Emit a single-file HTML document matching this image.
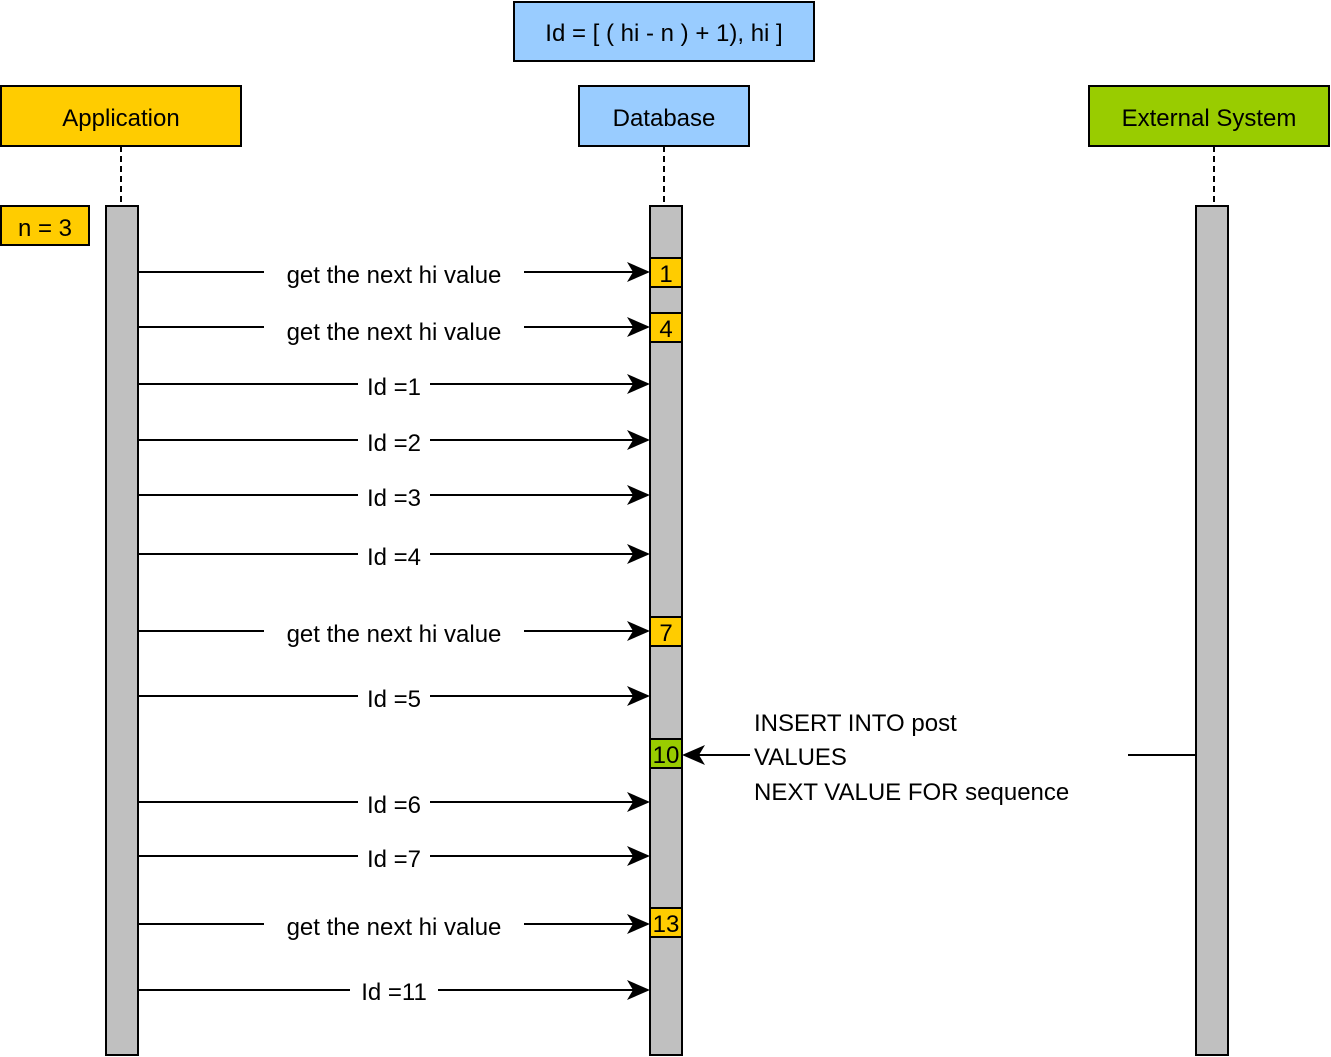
<!DOCTYPE html>
<html><head><meta charset="utf-8"><style>body{margin:0;background:#fff}svg{display:block}text{font-family:"Liberation Sans",Arial,sans-serif;fill:#000}</style></head>
<body>
<svg width="1331" height="1057" viewBox="0 0 1331 1057" xmlns="http://www.w3.org/2000/svg">
<g stroke="#000" stroke-width="2">
<rect x="514" y="2" width="300" height="59" fill="#99ccff"/>
<rect x="1" y="86" width="240" height="60" fill="#ffcc00"/>
<rect x="579" y="86" width="170" height="60" fill="#99ccff"/>
<rect x="1089" y="86" width="240" height="60" fill="#99cc00"/>
<line x1="121" y1="146" x2="121" y2="206" stroke-dasharray="6,4"/>
<line x1="664" y1="146" x2="664" y2="206" stroke-dasharray="6,4"/>
<line x1="1214" y1="146" x2="1214" y2="206" stroke-dasharray="6,4"/>
<rect x="106" y="206" width="32" height="849" fill="#c0c0c0"/>
<rect x="650" y="206" width="32" height="849" fill="#c0c0c0"/>
<rect x="1196" y="206" width="32" height="849" fill="#c0c0c0"/>
<rect x="1" y="206" width="88" height="39" fill="#ffcc00"/>
<rect x="650" y="258" width="32" height="29" fill="#ffcc00"/>
<rect x="650" y="313" width="32" height="29" fill="#ffcc00"/>
<rect x="650" y="617" width="32" height="29" fill="#ffcc00"/>
<rect x="650" y="739" width="32" height="29" fill="#99cc00"/>
<rect x="650" y="908" width="32" height="29" fill="#ffcc00"/>
</g>
<g font-size="24" text-anchor="middle">
<text x="664" y="41">Id = [ ( hi - n ) + 1), hi ]</text>
<text x="121" y="126">Application</text>
<text x="664" y="126">Database</text>
<text x="1209" y="126">External System</text>
<text x="45" y="236">n = 3</text>
<text x="666" y="282">1</text>
<text x="666" y="337">4</text>
<text x="666" y="641">7</text>
<text x="666" y="763">10</text>
<text x="666" y="932">13</text>
</g>
<g stroke="#000" stroke-width="2" id="arrows">
<line x1="138" y1="272" x2="640" y2="272"/>
<line x1="138" y1="327" x2="640" y2="327"/>
<line x1="138" y1="384" x2="640" y2="384"/>
<line x1="138" y1="440" x2="640" y2="440"/>
<line x1="138" y1="495" x2="640" y2="495"/>
<line x1="138" y1="554" x2="640" y2="554"/>
<line x1="138" y1="631" x2="640" y2="631"/>
<line x1="138" y1="696" x2="640" y2="696"/>
<line x1="138" y1="802" x2="640" y2="802"/>
<line x1="138" y1="856" x2="640" y2="856"/>
<line x1="138" y1="924" x2="640" y2="924"/>
<line x1="138" y1="990" x2="640" y2="990"/>
<line x1="692" y1="755" x2="750" y2="755"/>
<line x1="1128" y1="755" x2="1196" y2="755"/>
</g>
<g fill="#000">
<path d="M650 272 L627 262 L633 272 L627 282Z"/>
<path d="M650 327 L627 317 L633 327 L627 337Z"/>
<path d="M650 384 L627 374 L633 384 L627 394Z"/>
<path d="M650 440 L627 430 L633 440 L627 450Z"/>
<path d="M650 495 L627 485 L633 495 L627 505Z"/>
<path d="M650 554 L627 544 L633 554 L627 564Z"/>
<path d="M650 631 L627 621 L633 631 L627 641Z"/>
<path d="M650 696 L627 686 L633 696 L627 706Z"/>
<path d="M650 802 L627 792 L633 802 L627 812Z"/>
<path d="M650 856 L627 846 L633 856 L627 866Z"/>
<path d="M650 924 L627 914 L633 924 L627 934Z"/>
<path d="M650 990 L627 980 L633 990 L627 1000Z"/>
<path d="M682 755 L705 745 L699 755 L705 765Z"/>
</g>
<g fill="#fff">
<rect x="264" y="260" width="260" height="26"/>
<rect x="264" y="315" width="260" height="26"/>
<rect x="358" y="372" width="72" height="26"/>
<rect x="358" y="428" width="72" height="26"/>
<rect x="358" y="483" width="72" height="26"/>
<rect x="358" y="542" width="72" height="26"/>
<rect x="264" y="619" width="260" height="26"/>
<rect x="358" y="684" width="72" height="26"/>
<rect x="358" y="790" width="72" height="26"/>
<rect x="358" y="844" width="72" height="26"/>
<rect x="264" y="912" width="260" height="26"/>
<rect x="350" y="978" width="88" height="26"/>
</g>
<g font-size="24" text-anchor="middle">
<text x="394" y="283">get the next hi value</text>
<text x="394" y="340">get the next hi value</text>
<text x="394" y="395">Id =1</text>
<text x="394" y="451">Id =2</text>
<text x="394" y="506">Id =3</text>
<text x="394" y="565">Id =4</text>
<text x="394" y="642">get the next hi value</text>
<text x="394" y="707">Id =5</text>
<text x="394" y="813">Id =6</text>
<text x="394" y="867">Id =7</text>
<text x="394" y="935">get the next hi value</text>
<text x="394" y="1000">Id =11</text>
</g>
<g font-size="24">
<text x="754" y="731">INSERT INTO post</text>
<text x="754" y="765">VALUES</text>
<text x="754" y="800">NEXT VALUE FOR sequence</text>
</g>
</svg>
</body></html>
